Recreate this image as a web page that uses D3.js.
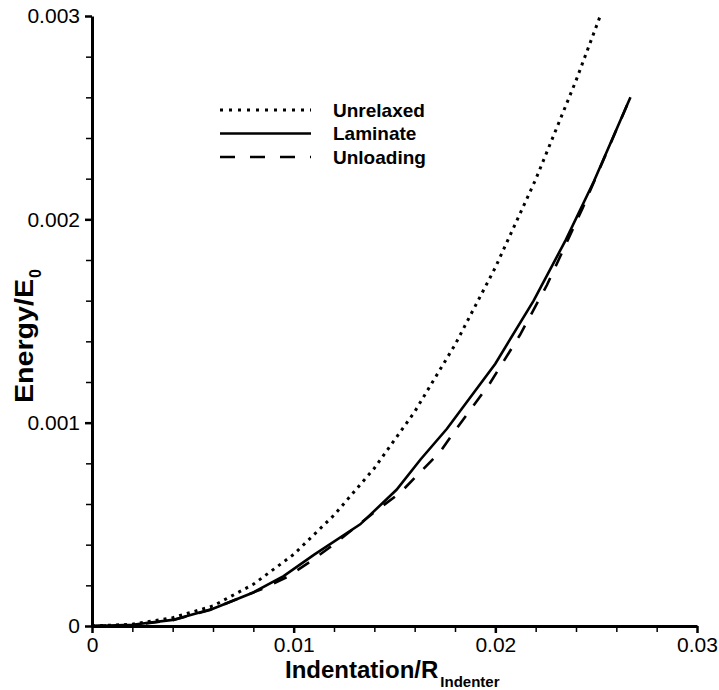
<!DOCTYPE html>
<html>
<head>
<meta charset="utf-8">
<script src="https://cdn.jsdelivr.net/npm/d3@7"></script>
<style>
  body { margin: 0; background: #fff; }
  text { font-family: "Liberation Sans", Arial, Helvetica, sans-serif; fill: #000; }
</style>
</head>
<body>
<div id="graph"></div>
<script>
const w = 719;
const h = 690;
const margin = { left: 92, right: 22, top: 16, bottom: 64 };

// data
const unrelaxedX = [0, 0.002, 0.004, 0.006, 0.008, 0.010, 0.012, 0.014, 0.016, 0.018, 0.020, 0.022, 0.024, 0.0252];
const unrelaxedY = [0, 0.0000085, 0.000041, 0.0000985, 0.000205, 0.000352, 0.000545, 0.000776, 0.001054, 0.001383, 0.001763, 0.002196, 0.002682, 0.003];

const laminateX = [0, 0.002, 0.004, 0.006, 0.008, 0.0095, 0.011, 0.0133, 0.0151, 0.0163, 0.0176, 0.020, 0.0219, 0.0235, 0.0249, 0.0267];
const laminateY = [0, 0.000006, 0.00003, 0.000085, 0.000165, 0.000245, 0.00035, 0.0005, 0.00067, 0.00082, 0.00097, 0.00129, 0.0016, 0.0019, 0.00219, 0.0026];

const unloadingX = [0, 0.002, 0.004, 0.00585, 0.00843, 0.00967, 0.0108, 0.01195, 0.01413, 0.01527, 0.01726, 0.0181, 0.01974, 0.02122, 0.02256, 0.02435, 0.0267];
const unloadingY = [0, 0.000005, 0.000028, 0.000079, 0.000182, 0.000241, 0.000315, 0.000398, 0.00057, 0.000654, 0.000856, 0.000974, 0.001195, 0.001431, 0.001677, 0.00206, 0.0026];

const xMajor = [0, 0.01, 0.02, 0.03];
const xMinor = [0.002, 0.004, 0.006, 0.008, 0.012, 0.014, 0.016, 0.018, 0.022, 0.024, 0.026, 0.028];
const yMajor = [0, 0.001, 0.002, 0.003];
const yMinor = [0.0002, 0.0004, 0.0006, 0.0008, 0.0012, 0.0014, 0.0016, 0.0018, 0.0022, 0.0024, 0.0026, 0.0028];

const seriesNames = ["Unrelaxed", "Laminate", "Unloading"];
const dashes = ["3,5", null, "14,13"];
const legendDashes = ["3,6", null, "15,15"];

const series = [
  unrelaxedX.map((x, i) => [x, unrelaxedY[i]]),
  laminateX.map((x, i) => [x, laminateY[i]]),
  unloadingX.map((x, i) => [x, unloadingY[i]])
];

const svg = d3.select('#graph')
  .append('svg')
  .attr('width', w)
  .attr('height', h);

const xScale = d3.scaleLinear()
  .domain([0, 0.03])
  .range([margin.left, w - margin.right]);

const yScale = d3.scaleLinear()
  .domain([0, 0.003])
  .range([h - margin.bottom, margin.top]);

const fmt = d => d === 0 ? "0" : d3.format(".3~f")(d);

// minor ticks first, then major axes on top
svg.append('g')
  .attr('transform', 'translate(0,' + (h - margin.bottom) + ')')
  .call(d3.axisBottom(xScale).tickValues(xMinor).tickSize(6).tickFormat(''))
  .call(g => g.select('.domain').remove())
  .selectAll('line').attr('stroke-width', 1.5);

svg.append('g')
  .attr('transform', 'translate(' + margin.left + ',0)')
  .call(d3.axisLeft(yScale).tickValues(yMinor).tickSize(6).tickFormat(''))
  .call(g => g.select('.domain').remove())
  .selectAll('line').attr('stroke-width', 1.5);

const xAxis = svg.append('g')
  .attr('transform', 'translate(0,' + (h - margin.bottom) + ')')
  .call(d3.axisBottom(xScale).tickValues(xMajor).tickSize(7).tickSizeOuter(0).tickPadding(4).tickFormat(fmt));
xAxis.select('.domain').attr('stroke-width', 3);
xAxis.selectAll('line').attr('stroke-width', 2.5);
xAxis.selectAll('text').style('font-size', '21px');

const yAxis = svg.append('g')
  .attr('transform', 'translate(' + margin.left + ',0)')
  .call(d3.axisLeft(yScale).tickValues(yMajor).tickSize(7).tickSizeOuter(0).tickPadding(5).tickFormat(fmt));
yAxis.select('.domain').attr('stroke-width', 3);
yAxis.selectAll('line').attr('stroke-width', 2.5);
yAxis.selectAll('text').style('font-size', '21px');

// curves
const line = d3.line()
  .x(d => xScale(d[0]))
  .y(d => yScale(d[1]));

svg.selectAll('.curve')
  .data(series)
  .enter()
  .append('path')
  .attr('class', 'curve')
  .attr('d', line)
  .attr('fill', 'none')
  .attr('stroke', '#000')
  .attr('stroke-width', (d, i) => i === 0 ? 3 : 2.6)
  .attr('stroke-dasharray', (d, i) => dashes[i]);

// legend
const legend = svg.append('g')
  .attr('transform', 'translate(220,110)');

const rows = legend.selectAll('.legend')
  .data(seriesNames)
  .enter()
  .append('g')
  .attr('class', 'legend')
  .attr('transform', (d, i) => 'translate(0,' + (i * 23.5) + ')');

rows.append('line')
  .attr('x1', 0)
  .attr('x2', 91)
  .attr('stroke', '#000')
  .attr('stroke-width', (d, i) => i === 0 ? 3 : 2.6)
  .attr('stroke-dasharray', (d, i) => legendDashes[i]);

rows.append('text')
  .attr('x', 113)
  .attr('dy', '0.35em')
  .style('font-size', '19px')
  .style('font-weight', 'bold')
  .text(d => d);

// axis titles
const xTitle = svg.append('text')
  .attr('x', 285)
  .attr('y', 678)
  .style('font-size', '24px')
  .style('font-weight', 'bold');
xTitle.append('tspan').text('Indentation/R');
xTitle.append('tspan')
  .attr('dy', 9)
  .attr('dx', 2)
  .style('font-size', '15px')
  .text('Indenter');

const yTitle = svg.append('text')
  .attr('transform', 'translate(33,403) rotate(-90)')
  .style('font-size', '25px')
  .style('font-weight', 'bold');
yTitle.append('tspan')
  .attr('textLength', 124)
  .attr('lengthAdjust', 'spacingAndGlyphs')
  .text('Energy/E');
yTitle.append('tspan')
  .attr('dy', 8)
  .attr('dx', 1)
  .style('font-size', '16px')
  .text('0');
</script>
</body>
</html>
